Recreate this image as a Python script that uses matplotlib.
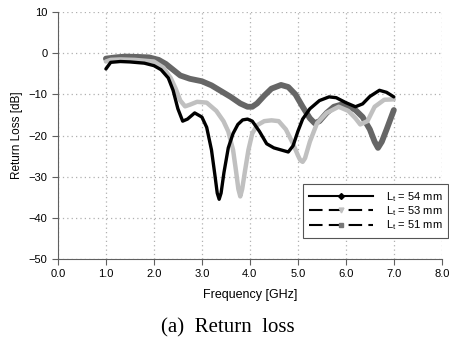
import matplotlib
matplotlib.use("Agg")
import matplotlib.pyplot as plt
from matplotlib.lines import Line2D

plt.rcParams['font.family'] = ['Liberation Sans', 'DejaVu Sans']

# Lt = 54 mm
f54 = [1.0, 1.05, 1.1, 1.3, 1.5, 1.8, 2.0, 2.15, 2.3, 2.4, 2.5, 2.6, 2.7, 2.85, 3.0, 3.1,
       3.2, 3.27, 3.32, 3.36, 3.4, 3.46, 3.55, 3.65, 3.75, 3.85, 3.95, 4.05, 4.2, 4.35, 4.5, 4.65, 4.8,
       4.9, 5.0, 5.1, 5.25, 5.45, 5.65, 5.8, 6.0, 6.2, 6.35, 6.5, 6.7, 6.85, 7.0]
rl54 = [-3.8, -3.0, -2.2, -2.0, -2.1, -2.4, -3.0, -4.0, -6.0, -9.0, -13.5, -16.5, -16.0, -14.5, -15.5, -18.0,
        -23.5, -29.5, -34.0, -35.5, -34.0, -29.0, -23.0, -19.5, -17.3, -16.2, -16.0, -16.5, -19.0, -22.0, -23.0, -23.5, -24.0,
        -22.5, -19.0, -16.0, -13.5, -11.5, -10.6, -10.8, -12.0, -13.0, -12.3, -10.5, -9.0, -9.5, -10.6]

# Lt = 53 mm
f53 = [1.0, 1.1, 1.3, 1.6, 2.0, 2.2, 2.35, 2.45, 2.55, 2.65, 2.75, 2.9, 3.1, 3.3, 3.45, 3.55,
       3.65, 3.71, 3.76, 3.8, 3.84, 3.9, 3.97, 4.05, 4.15, 4.3, 4.45, 4.6, 4.75, 4.9, 5.0, 5.05, 5.1, 5.15,
       5.25, 5.4, 5.6, 5.85, 6.05, 6.2, 6.3, 6.45, 6.6, 6.8, 7.0]
rl53 = [-2.0, -1.6, -1.5, -1.6, -2.0, -3.5, -6.0, -8.5, -11.5, -12.9, -12.5, -11.8, -12.0, -14.0, -16.5, -19.0,
        -23.5, -28.5, -33.0, -34.8, -33.0, -28.5, -23.5, -19.5, -17.5, -16.5, -16.3, -16.5, -18.5, -22.0, -24.8, -26.0, -26.4, -25.5,
        -21.5, -17.0, -14.5, -13.0, -14.0, -15.8, -17.3, -16.5, -13.0, -11.3, -11.2]

# Lt = 51 mm
f51 = [1.0, 1.2, 1.4, 1.7, 1.9, 2.1, 2.25, 2.4, 2.55, 2.75, 3.0, 3.2, 3.4, 3.6, 3.8, 3.95,
       4.05, 4.15, 4.3, 4.45, 4.65, 4.8, 4.95, 5.1, 5.25, 5.35, 5.45, 5.6, 5.75, 5.9, 6.05,
       6.2, 6.35, 6.5, 6.6, 6.67, 6.75, 6.85, 7.0]
rl51 = [-1.3, -1.0, -0.8, -0.9, -1.0, -1.6, -2.6, -4.0, -5.4, -6.2, -6.8, -7.8, -9.2, -10.6, -12.2, -13.0,
        -13.0, -12.2, -10.3, -8.6, -7.7, -8.2, -10.0, -13.0, -15.8, -17.0, -16.5, -14.5, -13.0, -12.5, -12.8,
        -13.8, -15.5, -18.5, -21.5, -23.0, -21.5, -18.5, -13.8]

labels = ["L$_\\mathregular{t}$ = 54 mm", "L$_\\mathregular{t}$ = 53 mm", "L$_\\mathregular{t}$ = 51 mm"]

fig = plt.figure(figsize=(4.49, 3.38), dpi=100)
ax = fig.add_axes([0.129, 0.234, 0.855, 0.73])

ax.plot(f51, rl51, color="#666666", lw=4.2, solid_capstyle="round", solid_joinstyle="round", zorder=3)
ax.plot(f53, rl53, color="#c0c0c0", lw=3.2, solid_capstyle="round", solid_joinstyle="round", zorder=4)
ax.plot(f54, rl54, color="#000000", lw=2.4, solid_capstyle="round", solid_joinstyle="round", zorder=5)

ax.set_xlim(0, 8)
ax.set_ylim(-50, 10)
ax.set_xticks([0, 1, 2, 3, 4, 5, 6, 7, 8])
ax.set_xticklabels(["%.1f" % v for v in range(9)])
ax.set_yticks(range(-50, 11, 10))
ax.grid(True, color="#b0b0b0", linestyle=(0, (1, 2.5)), linewidth=0.9)
ax.spines['top'].set_visible(False)
ax.spines['right'].set_visible(False)
ax.spines['left'].set_color("#606060")
ax.spines['bottom'].set_color("#606060")
ax.tick_params(labelsize=8, length=4, color="#606060", direction="out")
ax.set_xlabel("Frequency [GHz]", fontsize=9, labelpad=7)
ax.set_ylabel("Return Loss [dB]", fontsize=8.5, labelpad=4)

handles = [
    Line2D([], [], color="black", lw=1.5, marker="D", markersize=3, markerfacecolor="black"),
    Line2D([], [], color="black", lw=1.5, ls=(0, (6.5, 3)), marker="v", markersize=3.5,
           markerfacecolor="#c0c0c0", markeredgecolor="#c0c0c0"),
    Line2D([], [], color="black", lw=1.5, ls=(0, (6.5, 3)), marker="s", markersize=3.5,
           markerfacecolor="#777777", markeredgecolor="#777777"),
]
leg = ax.legend(handles, labels, loc="lower right", bbox_to_anchor=(1.016, 0.085), fontsize=8,
                numpoints=1, handlelength=5.8, handletextpad=1.1, labelspacing=0.05,
                borderaxespad=0, fancybox=False, framealpha=1, edgecolor="#555555", borderpad=0.5)
leg.get_frame().set_linewidth(0.8)

fig.text(0.507, 0.016, "(a)  Return  loss", fontsize=15, family="Liberation Serif", ha="center")

fig.savefig("out.png", dpi=100)
